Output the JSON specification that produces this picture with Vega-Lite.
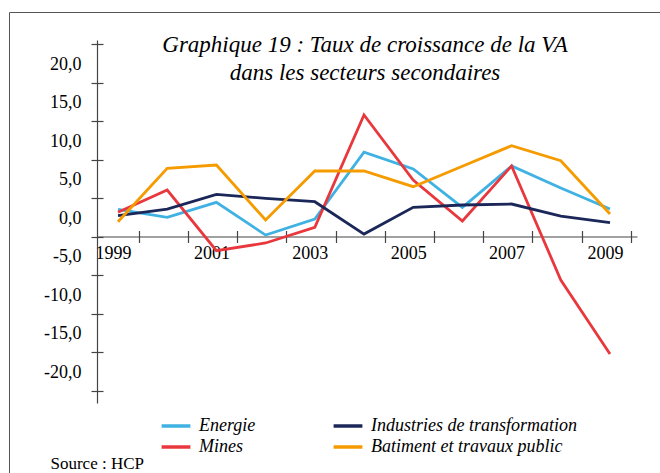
{
  "$schema": "https://vega.github.io/schema/vega-lite/v6.json",
  "width": 540,
  "height": 363,
  "autosize": {"type": "none"},
  "padding": {"left": 97, "top": 40, "right": 23, "bottom": 70},
  "background": "white",
  "title": {
    "text": ["Graphique 19 : Taux de croissance de la VA", "dans les secteurs secondaires"],
    "font": "Liberation Serif",
    "fontStyle": "italic",
    "fontWeight": "normal",
    "fontSize": 23,
    "lineHeight": 28,
    "color": "black",
    "anchor": "middle",
    "frame": "group",
    "offset": -73,
    "dx": -2
  },
  "data": {
    "values": [
      {"series": "Energie", "year": 1999, "value": 3.53},
      {"series": "Energie", "year": 2000, "value": 2.49},
      {"series": "Energie", "year": 2001, "value": 4.44},
      {"series": "Energie", "year": 2002, "value": 0.19},
      {"series": "Energie", "year": 2003, "value": 2.27},
      {"series": "Energie", "year": 2004, "value": 10.94},
      {"series": "Energie", "year": 2005, "value": 8.77},
      {"series": "Energie", "year": 2006, "value": 3.79},
      {"series": "Energie", "year": 2007, "value": 9.16},
      {"series": "Energie", "year": 2008, "value": 6.30},
      {"series": "Energie", "year": 2009, "value": 3.57},
      {"series": "Mines", "year": 1999, "value": 3.14},
      {"series": "Mines", "year": 2000, "value": 6.04},
      {"series": "Mines", "year": 2001, "value": -1.84},
      {"series": "Mines", "year": 2002, "value": -0.84},
      {"series": "Mines", "year": 2003, "value": 1.19},
      {"series": "Mines", "year": 2004, "value": 15.78},
      {"series": "Mines", "year": 2005, "value": 7.34},
      {"series": "Mines", "year": 2006, "value": 2.01},
      {"series": "Mines", "year": 2007, "value": 9.16},
      {"series": "Mines", "year": 2008, "value": -5.65},
      {"series": "Mines", "year": 2009, "value": -15.26},
      {"series": "Industries de transformation", "year": 1999, "value": 2.70},
      {"series": "Industries de transformation", "year": 2000, "value": 3.57},
      {"series": "Industries de transformation", "year": 2001, "value": 5.48},
      {"series": "Industries de transformation", "year": 2002, "value": 4.96},
      {"series": "Industries de transformation", "year": 2003, "value": 4.52},
      {"series": "Industries de transformation", "year": 2004, "value": 0.32},
      {"series": "Industries de transformation", "year": 2005, "value": 3.79},
      {"series": "Industries de transformation", "year": 2006, "value": 4.09},
      {"series": "Industries de transformation", "year": 2007, "value": 4.22},
      {"series": "Industries de transformation", "year": 2008, "value": 2.66},
      {"series": "Industries de transformation", "year": 2009, "value": 1.79},
      {"series": "Batiment et travaux public", "year": 1999, "value": 1.92},
      {"series": "Batiment et travaux public", "year": 2000, "value": 8.86},
      {"series": "Batiment et travaux public", "year": 2001, "value": 9.29},
      {"series": "Batiment et travaux public", "year": 2002, "value": 2.14},
      {"series": "Batiment et travaux public", "year": 2003, "value": 8.51},
      {"series": "Batiment et travaux public", "year": 2004, "value": 8.51},
      {"series": "Batiment et travaux public", "year": 2005, "value": 6.47},
      {"series": "Batiment et travaux public", "year": 2006, "value": 9.13},
      {"series": "Batiment et travaux public", "year": 2007, "value": 11.79},
      {"series": "Batiment et travaux public", "year": 2008, "value": 9.84},
      {"series": "Batiment et travaux public", "year": 2009, "value": 2.92}
    ]
  },
  "layer": [
    {
      "mark": {"type": "line", "strokeWidth": 2.8},
      "encoding": {
        "x": {
          "field": "year",
          "type": "quantitative",
          "scale": {"domain": [1998.573, 2009.549], "nice": false, "zero": false},
          "axis": {
            "orient": "bottom",
            "offset": -166.5,
            "values": [1999, 2000, 2001, 2002, 2003, 2004, 2005, 2006, 2007, 2008, 2009],
            "tickOffset": 20.8,
            "tickSize": 6,
            "labelExpr": "datum.value % 2 == 1 ? format(datum.value, 'd') : ''",
            "labelOffset": -25.8,
            "labelPadding": 2,
            "labelFont": "Liberation Serif",
            "labelFontSize": 18,
            "labelColor": "black",
            "labelFlush": false,
            "labelOverlap": false,
            "domainColor": "#444444",
            "tickColor": "#444444",
            "domainWidth": 1.2,
            "tickWidth": 1.2,
            "grid": false,
            "title": null
          }
        },
        "y": {
          "field": "value",
          "type": "quantitative",
          "scale": {"domain": [-21.62, 25.52], "nice": false, "zero": false},
          "axis": {
            "orient": "left",
            "values": [25, 20, 15, 10, 5, 0, -5, -10, -15, -20],
            "tickSize": 6,
            "labelExpr": "datum.value == -20 ? '' : (datum.value - 5 < 0 ? '-' : '') + replace(format(abs(datum.value - 5), '.1f'), '.', ',')",
            "labelOffset": 20,
            "labelPadding": 10,
            "labelFont": "Liberation Serif",
            "labelFontSize": 18,
            "labelColor": "black",
            "labelFlush": false,
            "labelOverlap": false,
            "domainColor": "#444444",
            "tickColor": "#444444",
            "domainWidth": 1.2,
            "tickWidth": 1.2,
            "grid": false,
            "title": null
          }
        },
        "color": {
          "field": "series",
          "type": "nominal",
          "scale": {
            "domain": ["Energie", "Mines", "Industries de transformation", "Batiment et travaux public"],
            "range": ["#3fb1e3", "#e8383d", "#1c2759", "#f59b00"]
          },
          "legend": {
            "orient": "none",
            "legendX": 68,
            "legendY": 375,
            "columns": 2,
            "title": null,
            "symbolType": "M-1.6,0H1.6",
            "symbolSize": 324,
            "symbolStrokeWidth": 3.5,
            "symbolFillColor": "transparent",
            "labelFont": "Liberation Serif",
            "labelFontStyle": "italic",
            "labelFontSize": 18,
            "labelColor": "black",
            "labelOffset": 12,
            "labelLimit": 400,
            "columnPadding": 70,
            "rowPadding": 1,
            "padding": 0
          }
        }
      }
    },
    {
      "mark": {"type": "point", "opacity": 0},
      "encoding": {
        "x": {
          "field": "year",
          "type": "quantitative",
          "axis": {
            "orient": "bottom",
            "offset": -172.5,
            "values": [1999, 2000, 2001, 2002, 2003, 2004, 2005, 2006, 2007, 2008, 2009],
            "tickOffset": 20.8,
            "tickSize": 6,
            "labels": false,
            "domain": false,
            "tickColor": "#444444",
            "tickWidth": 1.2,
            "grid": false,
            "title": "Source : HCP",
            "titleX": -47,
            "titleY": 232.5,
            "titleAlign": "left",
            "titleBaseline": "middle",
            "titleAngle": 0,
            "titleFont": "Liberation Serif",
            "titleFontSize": 17,
            "titleFontWeight": "normal",
            "titleColor": "black"
          }
        },
        "y": {
          "field": "value",
          "type": "quantitative",
          "axis": {
            "orient": "left",
            "offset": -6,
            "values": [25, 20, 15, 10, 5, 0, -5, -10, -15, -20],
            "tickSize": 6,
            "labels": false,
            "domain": false,
            "tickColor": "#444444",
            "tickWidth": 1.2,
            "grid": false,
            "title": null
          }
        },
        "size": {
          "field": "year",
          "type": "quantitative",
          "legend": {
            "orient": "none",
            "legendX": -88,
            "legendY": -28,
            "padding": 330,
            "strokeColor": "#555555",
            "title": null,
            "labelOpacity": 0,
            "symbolOpacity": 0
          }
        }
      }
    }
  ],
  "resolve": {"axis": {"x": "independent", "y": "independent"}},
  "config": {
    "view": {"stroke": null},
    "legend": {"strokeWidth": 1}
  }
}
